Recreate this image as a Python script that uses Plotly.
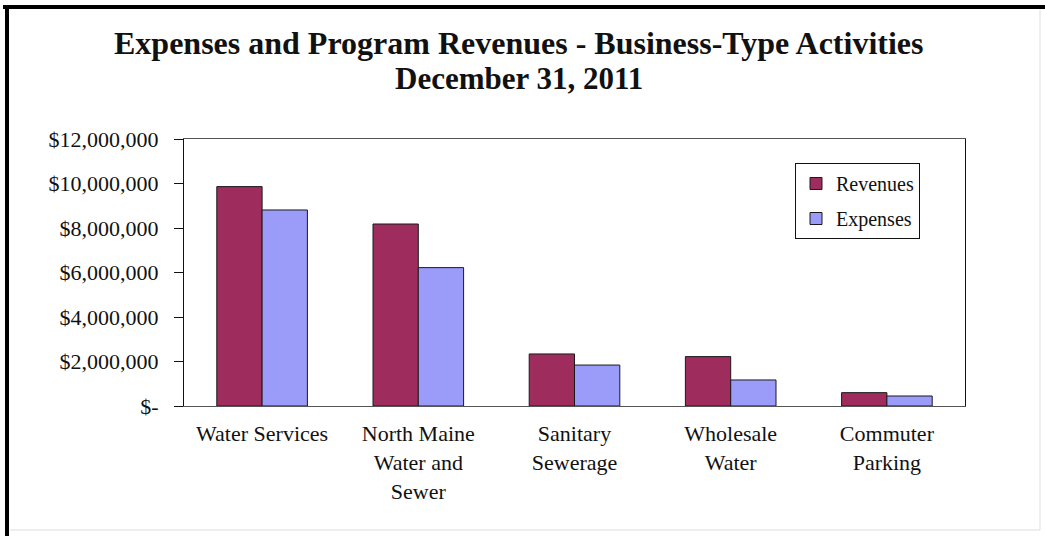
import plotly.graph_objects as go

categories = ["Water Services", "North Maine<br>Water and<br>Sewer", "Sanitary<br>Sewerage",
              "Wholesale<br>Water", "Commuter<br>Parking"]
revenues = [9860000, 8180000, 2340000, 2220000, 600000]
expenses = [8810000, 6220000, 1840000, 1170000, 450000]
tick_vals = [0, 2000000, 4000000, 6000000, 8000000, 10000000, 12000000]
tick_text = ["$-", "$2,000,000", "$4,000,000", "$6,000,000", "$8,000,000",
             "$10,000,000", "$12,000,000"]
title_lines = ["Expenses and Program Revenues - Business-Type Activities", "December 31, 2011"]

SERIF = "Liberation Serif, Times New Roman, serif"

fig = go.Figure()
fig.add_trace(go.Bar(name="Revenues", x=categories, y=revenues,
                     marker=dict(color="#9E2D5E", line=dict(color="#1a1a1a", width=1)),
                     legendgroup="r"))
fig.add_trace(go.Bar(name="Expenses", x=categories, y=expenses,
                     marker=dict(color="#9B9BFA", line=dict(color="#1a1a1a", width=1)),
                     legendgroup="e"))

W, H = 1045, 536
L, R, T, B = 184, 80, 139, 130
pw, ph = W - L - R, H - T - B

def px_x(p):
    return (p - L) / pw

def px_y(p):
    return (H - B - p) / ph

annotations = [
    dict(text="<b>" + title_lines[0] + "</b>", xref="paper", yref="paper",
         x=px_x(519), y=px_y(43), xanchor="center", yanchor="middle", showarrow=False,
         font=dict(family=SERIF, size=32, color="#111111")),
    dict(text="<b>" + title_lines[1] + "</b>", xref="paper", yref="paper",
         x=px_x(519), y=px_y(78), xanchor="center", yanchor="middle", showarrow=False,
         font=dict(family=SERIF, size=31, color="#111111")),
]

fig.update_layout(
    width=W, height=H,
    margin=dict(l=L, r=R, t=T, b=B),
    paper_bgcolor="white", plot_bgcolor="white",
    barmode="group", bargap=0.42, bargroupgap=0,
    font=dict(family=SERIF, color="#111111"),
    showlegend=True,
    annotations=annotations,
    legend=dict(x=px_x(795), y=px_y(163), xanchor="left", yanchor="top",
                bordercolor="#111111", borderwidth=1, bgcolor="white",
                font=dict(family=SERIF, size=20, color="#111111"),
                traceorder="grouped", tracegroupgap=6,
                entrywidth=132, entrywidthmode="pixels"),
    xaxis=dict(showline=True, linecolor="#555555", linewidth=1, mirror=True,
               ticks="", showgrid=False, tickfont=dict(family=SERIF, size=22, color="#111111"),
               tickangle=0, ticklabelstandoff=8),
    yaxis=dict(range=[0, 12000000], tickvals=tick_vals, ticktext=tick_text,
               showline=True, linecolor="#111111", linewidth=1, mirror=True,
               ticks="outside", ticklen=9, tickcolor="#111111", showgrid=False,
               zeroline=False, tickfont=dict(family=SERIF, size=22, color="#111111"),
               ticklabelstandoff=11),
    shapes=[
        dict(type="line", xref="paper", yref="paper", x0=px_x(3), x1=px_x(W), y0=px_y(7), y1=px_y(7),
             line=dict(color="black", width=4)),
        dict(type="line", xref="paper", yref="paper", x0=px_x(7), x1=px_x(7), y0=px_y(5), y1=px_y(H),
             line=dict(color="black", width=4)),
        dict(type="line", xref="paper", yref="paper", x0=px_x(1040), x1=px_x(1040), y0=px_y(10), y1=px_y(530),
             line=dict(color="#dddddd", width=1)),
        dict(type="line", xref="paper", yref="paper", x0=px_x(10), x1=px_x(1040), y0=px_y(530), y1=px_y(530),
             line=dict(color="#dddddd", width=1)),
    ],
)

fig.write_html("out.html")
